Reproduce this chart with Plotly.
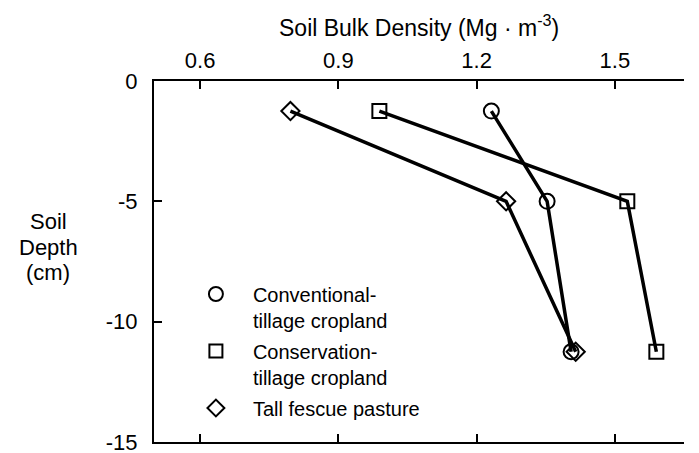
import plotly.graph_objects as go

depth = [-1.25, -5, -11.25]
conventional = [1.232, 1.353, 1.405]
conservation = [0.989, 1.527, 1.590]
fescue = [0.796, 1.264, 1.415]

series_names = ["Conventional-<br>tillage cropland", "Conservation-<br>tillage cropland", "Tall fescue pasture"]
series_values = [conventional, conservation, fescue]
symbols = ["circle-open", "square-open", "diamond-open"]
sizes = [15, 14, 14]

x_ticks = [0.6, 0.9, 1.2, 1.5]
y_ticks = [0, -5, -10, -15]

x_title = "Soil Bulk Density (Mg · m<sup>-3</sup>)"
y_title_lines = ["Soil", "Depth", "(cm)"]

FONT = "Liberation Sans, Arial, Helvetica, sans-serif"

fig = go.Figure()
for name, vals, sym, sz in zip(series_names, series_values, symbols, sizes):
    fig.add_trace(go.Scatter(
        x=vals, y=depth, mode="lines+markers", showlegend=False,
        line=dict(color="black", width=3.5),
        marker=dict(symbol=sym, size=sz, color="black", line=dict(color="black", width=2)),
    ))
for i, (name, sym, sz) in enumerate(zip(series_names, symbols, sizes)):
    fig.add_trace(go.Scatter(
        x=[None], y=[None], mode="markers", name=name, legendgroup=f"g{i}",
        marker=dict(symbol=sym, size=sz - 1, color="black", line=dict(color="black", width=2)),
    ))

annotations = [
    dict(text=x_title, xref="paper", yref="paper",
         x=0.5, y=1.152, xanchor="center", yanchor="middle", showarrow=False,
         font=dict(family=FONT, size=23)),
]
for line, yp in zip(y_title_lines, [0.610, 0.5394, 0.4689]):
    annotations.append(dict(text=line, xref="paper", yref="paper",
                            x=-0.2, y=yp, xanchor="center", yanchor="middle", showarrow=False,
                            font=dict(family=FONT, size=22)))

fig.update_layout(
    template="none",
    width=691, height=445,
    margin=dict(l=146, r=15, t=73, b=11, autoexpand=False),
    paper_bgcolor="white", plot_bgcolor="white",
    font=dict(family=FONT, size=22, color="black"),
    showlegend=True,
    legend=dict(
        x=0.047, y=0.464, xanchor="left", yanchor="top",
        font=dict(family=FONT, size=20, color="black"),
        bgcolor="rgba(0,0,0,0)", borderwidth=0, valign="top",
        tracegroupgap=2, itemwidth=64,
    ),
    xaxis=dict(
        range=[0.5, 1.65], side="top", tickvals=x_ticks, ticktext=[f"{v:.1f}" for v in x_ticks],
        ticks="inside", ticklen=8, tickwidth=2, tickcolor="black",
        showline=True, linecolor="black", linewidth=2, mirror="ticks",
        showgrid=False, zeroline=False, ticklabelstandoff=2, automargin=False,
        ticklabeloverflow="allow",
        tickfont=dict(family=FONT, size=22),
    ),
    yaxis=dict(
        range=[-15, 0], tickvals=y_ticks, ticktext=[str(v) for v in y_ticks],
        ticks="inside", ticklen=8, tickwidth=2, tickcolor="black",
        showline=True, linecolor="black", linewidth=2,
        showgrid=False, zeroline=False, ticklabelstandoff=10, automargin=False,
        ticklabeloverflow="allow",
        tickfont=dict(family=FONT, size=22),
    ),
    annotations=annotations,
)

fig.write_html("out.html")
